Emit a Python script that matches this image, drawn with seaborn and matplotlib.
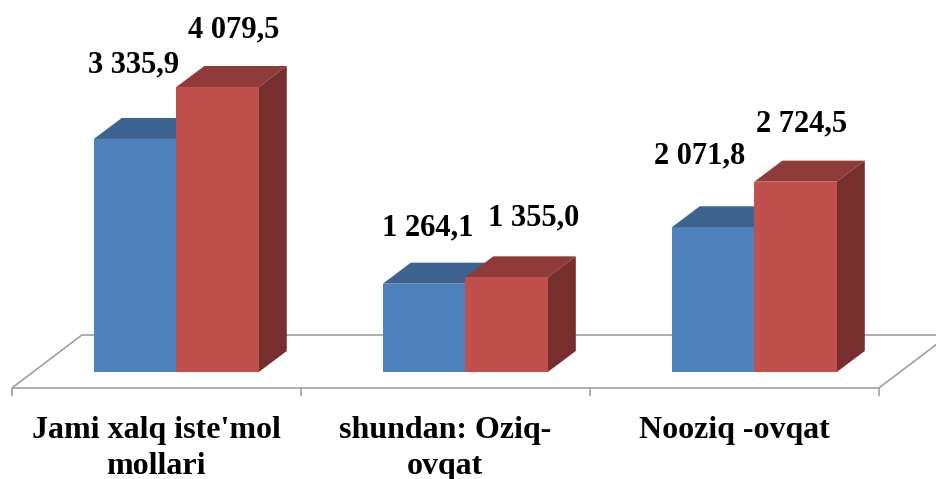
import numpy as np
import pandas as pd
import matplotlib
matplotlib.use("Agg")
import matplotlib.pyplot as plt
import seaborn as sns
from matplotlib.patches import Polygon

# ---------------- data ----------------
categories = ["Jami xalq iste'mol\nmollari", "shundan: Oziq-\novqat", "Nooziq -ovqat"]
series_names = ["Series 1", "Series 2"]
values_1 = [3335.9, 1264.1, 2071.8]
values_2 = [4079.5, 1355.0, 2724.5]

# ---------------- style ----------------
front_colors = ["#4F81BD", "#C0504D"]
top_colors = ["#3D6390", "#8F3B39"]
side_colors = ["#385C88", "#772F2D"]
floor_color = "#A0A0A0"

sns.set_style("white")
plt.rcParams["font.family"] = ["Liberation Serif", "DejaVu Serif"]

W, H, DPI = 936, 479, 100
X0_PX, X_STEP_PX = 176.3, 289.0     # pixel centre of first group, group spacing
Y0_PX, Y_SCALE = 372.0, 0.06986     # baseline pixel row, pixels per unit
DEPTH_PX = (28, 21)                 # 3-D depth offset in pixels (right, up)


def px2x(px):
    return (px - X0_PX) / X_STEP_PX


def px2y(py):
    return (Y0_PX - py) / Y_SCALE


def fmt(v):
    return f"{v:,.1f}".replace(",", " ").replace(".", ",")


df = pd.DataFrame({
    "category": categories * 2,
    "series": [series_names[0]] * 3 + [series_names[1]] * 3,
    "value": values_1 + values_2,
})

fig = plt.figure(figsize=(W / DPI, H / DPI), dpi=DPI)
ax = fig.add_axes([0, 0, 1, 1])

sns.barplot(data=df, x="category", y="value", hue="series",
            palette=front_colors, saturation=1, width=0.571, dodge=True,
            linewidth=0, legend=False, ax=ax, zorder=2)

ax.set_xlim(px2x(0), px2x(W))
ax.set_ylim(px2y(H), px2y(0))
ax.set_axis_off()

dx = DEPTH_PX[0] / X_STEP_PX
dy = DEPTH_PX[1] / Y_SCALE

# ---------------- floor ----------------
shift = -0.069
n = len(categories)
fx0, fx1 = -0.5 + shift, n - 0.5 + shift
fy_front = px2y(388)
fy_back = px2y(335)
fdx = 70 / X_STEP_PX
floor = Polygon([(fx0, fy_front), (fx1, fy_front), (fx1 + fdx, fy_back), (fx0 + fdx, fy_back)],
                closed=True, facecolor="white", edgecolor=floor_color, linewidth=1.2, zorder=0)
ax.add_patch(floor)
tick_len = 8 / Y_SCALE
for t in np.arange(n + 1) - 0.5 + shift:
    ax.plot([t, t], [fy_front, fy_front - tick_len], color=floor_color, lw=1.2, zorder=0,
            solid_capstyle="butt")

# ---------------- 3-D faces ----------------
for si, cont in enumerate(ax.containers):
    for p in cont:
        p.set_zorder(2 + 2 * si)
        x0, w, h = p.get_x(), p.get_width(), p.get_height()
        top = Polygon([(x0, h), (x0 + w, h), (x0 + w + dx, h + dy), (x0 + dx, h + dy)],
                      closed=True, facecolor=top_colors[si], edgecolor="none", zorder=1.5 + 2 * si)
        side = Polygon([(x0 + w, 0), (x0 + w + dx, dy), (x0 + w + dx, h + dy), (x0 + w, h)],
                       closed=True, facecolor=side_colors[si], edgecolor="none", zorder=1.5 + 2 * si)
        ax.add_patch(top)
        ax.add_patch(side)

# ---------------- value labels ----------------
label_offsets_px = [
    [(-1, 67), (3.5, 48), (-13.5, 64)],
    [(16, 50), (27, 52), (6, 50)],
]
for si, cont in enumerate(ax.containers):
    for ci, p in enumerate(cont):
        ox, oy = label_offsets_px[si][ci]
        ax.annotate(fmt(p.get_height()), (p.get_x() + p.get_width() / 2, p.get_height()),
                    xytext=(ox * 72 / DPI, oy * 72 / DPI), textcoords="offset points",
                    ha="center", va="baseline", fontsize=22, fontweight="bold",
                    color="black", zorder=10)

# ---------------- category labels ----------------
for i, cat in enumerate(categories):
    ax.text(i + shift, px2y(416), cat, ha="center", va="top", fontsize=23,
            fontweight="bold", linespacing=1.3, color="black")

fig.savefig("out.png", dpi=DPI)
